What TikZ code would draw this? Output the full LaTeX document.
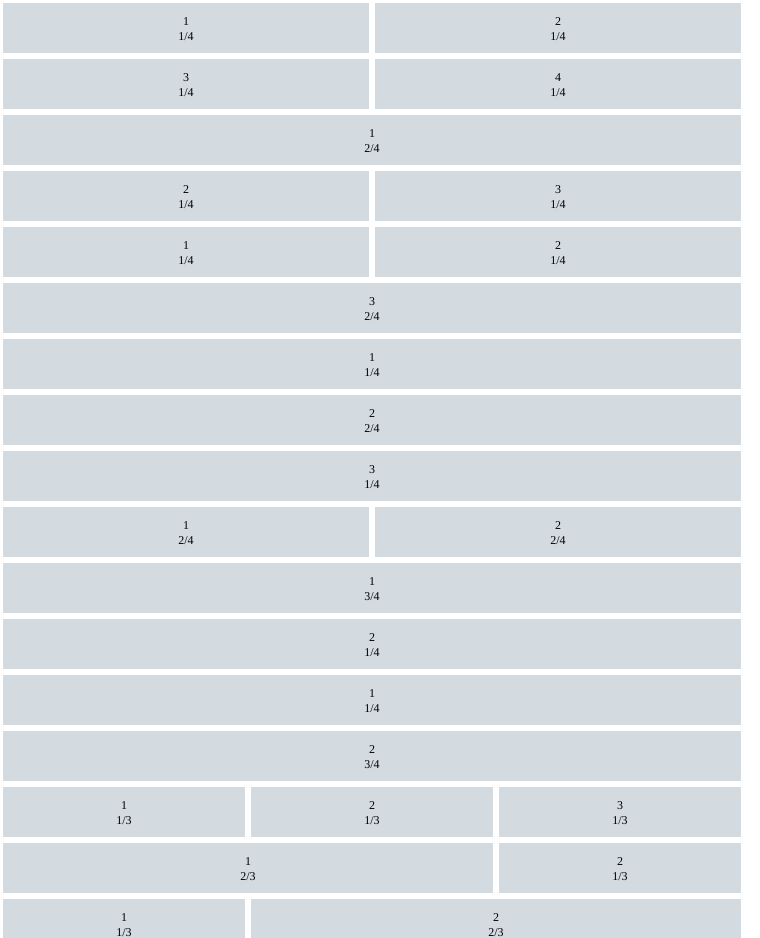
\documentclass[tikz,border=0pt]{standalone}
\usepackage{fontspec}
\setmainfont{Liberation Serif}
\definecolor{cellfill}{RGB}{211,219,224}
\tikzset{
  cell/.style={fill=cellfill, draw=none, inner sep=0pt, outer sep=0pt,
    minimum height=50pt},
  celltext/.style={inner sep=0pt, align=center, text=black,
    font=\fontsize{12}{15}\selectfont}
}
\newcommand\mycell[6]{%
  \node[cell, minimum width={(#3-#2)*1pt}] (#1) at ({(#2+#3)/2},{-(28+56*#4)}) {};%
  \node[celltext] (#1t) at ([yshift=-1pt]#1.center) {#5\\#6};%
}
\begin{document}
\begin{tikzpicture}[x=1pt,y=1pt]
\useasboundingbox (0,0) rectangle (760,-938);
\clip (0,0) rectangle (760,-938);
% row 0
\mycell{r0a}{3}{369}{0}{1}{1/4}
\mycell{r0b}{375}{741}{0}{2}{1/4}
% row 1
\mycell{r1a}{3}{369}{1}{3}{1/4}
\mycell{r1b}{375}{741}{1}{4}{1/4}
% row 2
\mycell{r2a}{3}{741}{2}{1}{2/4}
% row 3
\mycell{r3a}{3}{369}{3}{2}{1/4}
\mycell{r3b}{375}{741}{3}{3}{1/4}
% row 4
\mycell{r4a}{3}{369}{4}{1}{1/4}
\mycell{r4b}{375}{741}{4}{2}{1/4}
% rows 5-8
\mycell{r5a}{3}{741}{5}{3}{2/4}
\mycell{r6a}{3}{741}{6}{1}{1/4}
\mycell{r7a}{3}{741}{7}{2}{2/4}
\mycell{r8a}{3}{741}{8}{3}{1/4}
% row 9
\mycell{r9a}{3}{369}{9}{1}{2/4}
\mycell{r9b}{375}{741}{9}{2}{2/4}
% rows 10-13
\mycell{r10a}{3}{741}{10}{1}{3/4}
\mycell{r11a}{3}{741}{11}{2}{1/4}
\mycell{r12a}{3}{741}{12}{1}{1/4}
\mycell{r13a}{3}{741}{13}{2}{3/4}
% row 14
\mycell{r14a}{3}{245}{14}{1}{1/3}
\mycell{r14b}{251}{493}{14}{2}{1/3}
\mycell{r14c}{499}{741}{14}{3}{1/3}
% row 15
\mycell{r15a}{3}{493}{15}{1}{2/3}
\mycell{r15b}{499}{741}{15}{2}{1/3}
% row 16
\mycell{r16a}{3}{245}{16}{1}{1/3}
\mycell{r16b}{251}{741}{16}{2}{2/3}
\end{tikzpicture}
\end{document}
